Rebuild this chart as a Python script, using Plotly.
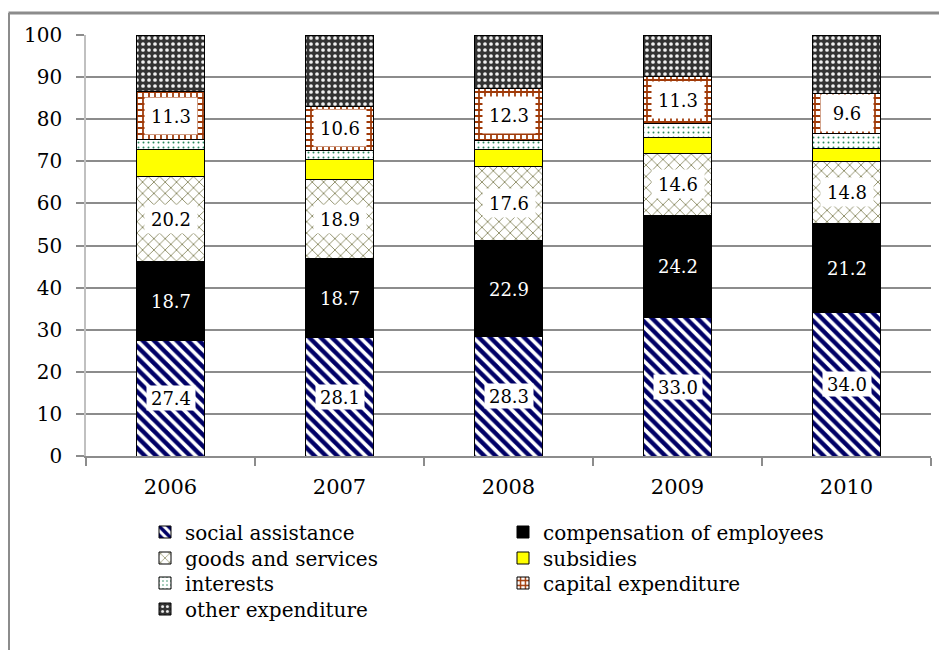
import plotly.graph_objects as go

years = ["2006", "2007", "2008", "2009", "2010"]
social = [27.4, 28.1, 28.3, 33.0, 34.0]
comp = [18.7, 18.7, 22.9, 24.2, 21.2]
goods = [20.2, 18.9, 17.6, 14.6, 14.8]
subsidies = [6.6, 4.8, 4.1, 3.8, 3.1]
interests = [2.3, 2.0, 2.0, 3.3, 3.5]
capital = [11.3, 10.6, 12.3, 11.3, 9.6]
other = [13.5, 16.9, 12.8, 9.8, 13.8]

FONT = "DejaVu Serif, Liberation Serif, serif"

# page is offset by the default 8px body margin
OFF = 8
L, R, T, B = 78, 16, 27, 194
W, H = 939, 642
pw, ph = W - L - R, H - T - B

def px(x_page):
    return (x_page - OFF - L) / pw

def py(y_page):
    return (H - B - (y_page - OFF)) / ph

# (name, values, marker, legend column x (page px), legend row y (page px))
series = [
    ("social assistance", social, dict(color="white", pattern=dict(shape="\\", fgcolor="#000066", bgcolor="white", fgopacity=1, size=8, solidity=0.55)), 145, 532),
    ("compensation of employees", comp, dict(color="black"), 503, 532),
    ("goods and services", goods, dict(color="white", pattern=dict(shape="x", fgcolor="#55551c", bgcolor="white", fgopacity=1, size=8, solidity=0.15)), 145, 558),
    ("subsidies", subsidies, dict(color="#FFFF00"), 503, 558),
    ("interests", interests, dict(color="white", pattern=dict(shape=".", fgcolor="#2a8a60", bgcolor="white", fgopacity=1, size=5, solidity=0.12)), 145, 583),
    ("capital expenditure", capital, dict(color="white", pattern=dict(shape="+", fgcolor="#a03a08", bgcolor="white", fgopacity=1, size=6, solidity=0.5)), 503, 583),
    ("other expenditure", other, dict(color="#333333", pattern=dict(shape=".", fgcolor="#f0f0f0", bgcolor="#333333", fgopacity=1, size=6, solidity=0.3)), 145, 609),
]

fig = go.Figure()
legends = {}
for k, (name, vals, marker, lx, ly) in enumerate(series):
    m = dict(marker)
    m["line"] = dict(color="black", width=1)
    key = "legend" if k == 0 else f"legend{k + 1}"
    fig.add_trace(go.Bar(x=years, y=vals, name=name, marker=m, width=0.4, legend=key, showlegend=True))
    legends[key] = dict(x=px(lx), y=py(ly), xanchor="left", yanchor="middle", orientation="v",
                        font=dict(family=FONT, size=20, color="black"), bgcolor="rgba(0,0,0,0)",
                        visible=True)

# value labels (x given as category index)
annotations = []
def add_labels(base, vals, color, bg, w, h):
    for i in range(len(years)):
        annotations.append(dict(
            x=i, y=base[i] + vals[i] / 2, xref="x", yref="y",
            text=f"{vals[i]:.1f}", showarrow=False,
            font=dict(family=FONT, size=18, color=color),
            bgcolor=bg, width=w, height=h,
        ))

b_social = [0] * 5
b_comp = [social[i] for i in range(5)]
b_goods = [social[i] + comp[i] for i in range(5)]
b_cap = [social[i] + comp[i] + goods[i] + subsidies[i] + interests[i] for i in range(5)]

add_labels(b_social, social, "black", "white", 46, 22)
add_labels(b_comp, comp, "white", "rgba(0,0,0,0)", 46, 22)
add_labels(b_goods, goods, "black", "white", 50, 26)
add_labels(b_cap, capital, "black", "white", 50, 34)

shapes = [
    dict(type="line", xref="paper", yref="paper", x0=px(8.5), x1=px(960), y0=py(13), y1=py(13),
         line=dict(color="#8c8c8c", width=3)),
    dict(type="line", xref="paper", yref="paper", x0=px(8.5), x1=px(8.5), y0=py(13), y1=py(700),
         line=dict(color="#8c8c8c", width=3)),
]

fig.update_layout(
    width=W, height=H,
    margin=dict(l=L, r=R, t=T, b=B),
    barmode="stack",
    showlegend=True,
    plot_bgcolor="white", paper_bgcolor="white",
    font=dict(family=FONT, size=20, color="black"),
    annotations=annotations,
    shapes=shapes,
    **legends,
)

fig.update_xaxes(
    type="category", range=[-0.5, 4.5], showgrid=False, showline=True, linecolor="#8c8c8c", linewidth=1.5,
    ticks="outside", tickson="boundaries", ticklen=8, tickcolor="#8c8c8c", tickwidth=1.5,
    tickfont=dict(family=FONT, size=21), ticklabelstandoff=11,
)
fig.update_yaxes(
    range=[0, 100], dtick=10, showgrid=True, gridcolor="#8c8c8c", gridwidth=1.5,
    showline=True, linecolor="#c0c0c0", linewidth=1.5,
    ticks="outside", ticklen=8, tickcolor="#8c8c8c", tickwidth=1.5,
    tickfont=dict(family=FONT, size=20), ticklabelstandoff=10, zeroline=False,
)

fig.write_html("out.html")
